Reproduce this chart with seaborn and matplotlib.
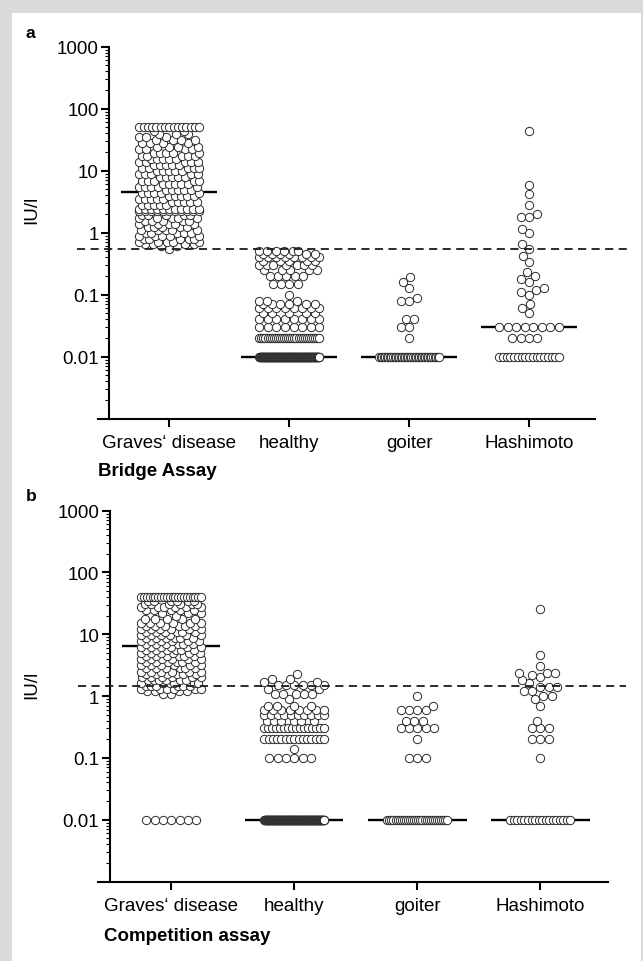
import numpy as np
import pandas as pd
import matplotlib
matplotlib.use('Agg')
import matplotlib.pyplot as plt
from matplotlib.patches import Rectangle
from matplotlib.ticker import FixedLocator, LogLocator, NullFormatter
import seaborn as sns

groups = ["Graves\u2018 disease", "healthy", "goiter", "Hashimoto"]
y_ticks = [0.01, 0.1, 1, 10, 100, 1000]
y_tick_labels = ["0.01", "0.1", "1", "10", "100", "1000"]

# Bridge assay (panel a): measured levels and number of sera at each level
graves_a_vals = [0.55, 0.6, 0.65, 0.72, 0.8, 0.9, 1.0, 1.1, 1.25, 1.4, 1.55, 1.75,
                 1.95, 2.2, 2.45, 2.75, 3.1, 3.45, 3.9, 4.35, 4.9, 5.5, 6.2, 6.9,
                 7.8, 8.7, 9.8, 11, 12.3, 13.8, 15.5, 17.4, 19.5, 22, 24.5, 27.5,
                 31, 34.5, 39, 44, 50]
graves_a_counts = [1, 2, 4, 5, 5, 5, 5, 5, 5, 5, 5, 5,
                   5, 11, 11, 5, 5, 5, 5, 5, 5, 5, 5, 5,
                   5, 5, 5, 5, 5, 5, 5, 5, 5, 4, 4, 4,
                   4, 3, 3, 2, 15]
healthy_a_vals = [0.01, 0.02, 0.03, 0.04, 0.05, 0.06, 0.07, 0.08, 0.1,
                  0.15, 0.2, 0.25, 0.3, 0.35, 0.4, 0.45, 0.5]
healthy_a_counts = [200, 30, 8, 8, 5, 8, 6, 3, 1, 4, 5, 5, 7, 5, 8, 6, 6]
goiter_a_vals = [0.01, 0.02, 0.03, 0.04, 0.08, 0.09, 0.13, 0.16, 0.19]
goiter_a_counts = [40, 1, 2, 2, 2, 1, 1, 1, 1]
hashimoto_a_vals = [0.01, 0.02, 0.03, 0.05, 0.06, 0.07, 0.1, 0.11, 0.12, 0.13,
                    0.16, 0.18, 0.2, 0.23, 0.34, 0.42, 0.55, 0.65, 1.0, 1.15,
                    1.8, 2.0, 2.8, 4.2, 5.8, 43]
hashimoto_a_counts = [17, 4, 8, 1, 1, 1, 1, 1, 1, 1, 1, 1, 1, 1, 1, 1, 1, 1,
                      1, 1, 2, 1, 1, 1, 1, 1]
medians_a = [4.5, 0.01, 0.01, 0.03]
cutoff_a = 0.55

# Competition assay (panel b)
graves_b_vals = [0.01, 1.1, 1.2, 1.3, 1.45, 1.6, 1.8, 2.0, 2.25, 2.5, 2.8, 3.15,
                 3.5, 3.95, 4.4, 4.95, 5.5, 6.2, 6.9, 7.8, 8.7, 9.8, 11, 12.3,
                 13.8, 15.5, 17.4, 19.5, 22, 24.5, 27.5, 31, 35, 40]
graves_b_counts = [7, 2, 4, 6, 6, 6, 6, 6, 6, 6, 6, 6,
                   6, 6, 6, 6, 6, 6, 6, 6, 6, 6, 6, 6,
                   6, 6, 5, 1, 3, 5, 6, 6, 6, 22]
healthy_b_vals = [0.01, 0.1, 0.14, 0.2, 0.3, 0.4, 0.5, 0.6, 0.7, 0.9, 1.1,
                  1.3, 1.5, 1.7, 1.9, 2.3]
healthy_b_counts = [220, 6, 1, 15, 16, 6, 10, 8, 4, 1, 5, 2, 6, 2, 2, 1]
goiter_b_vals = [0.01, 0.1, 0.2, 0.3, 0.4, 0.6, 0.7, 1.0]
goiter_b_counts = [30, 3, 1, 5, 3, 4, 1, 1]
hashimoto_b_vals = [0.01, 0.1, 0.2, 0.3, 0.4, 0.7, 0.9, 1.0, 1.2, 1.4, 1.6,
                    1.8, 2.0, 2.2, 2.4, 3.1, 4.7, 26]
hashimoto_b_counts = [18, 1, 3, 3, 1, 1, 1, 2, 2, 3, 1, 1, 1, 1, 3, 1, 1, 1]
medians_b = [6.4, 0.01, 0.01, 0.01]
cutoff_b = 1.45

DIAM = 8.3   # marker diameter in pixels
HALF = 30.0  # max half width of a column in pixels
FS = 13.5


def beeswarm(ax, pos, values):
    """GraphPad-like column scatter: returns x positions for sorted values"""
    vals = np.sort(np.asarray(values, float))
    pts = ax.transData.transform(np.column_stack([np.full(len(vals), pos), vals]))
    y = pts[:, 1]
    x = np.full(len(vals), np.nan)
    cap = 2 * int(HALF // DIAM) + 1
    # rows of identical values that do not fit get squeezed into the width
    _, start, cnt = np.unique(vals, return_index=True, return_counts=True)
    for s, n in zip(start, cnt):
        if n > cap:
            x[s:s + n] = np.linspace(-HALF, HALF, n)
    for i in range(len(vals)):
        if not np.isnan(x[i]):
            continue
        done = ~np.isnan(x)
        near = done & (np.abs(y - y[i]) < DIAM)
        nx, dy = x[near], y[near] - y[i]
        dx = np.sqrt(DIAM ** 2 - dy ** 2)
        cands = np.concatenate([[0.0], nx - dx, nx + dx])
        cands = cands[np.abs(cands) <= HALF + 1e-6]
        cands = cands[np.argsort(np.abs(cands), kind='stable')]
        best = None
        for c in cands:
            if np.all((c - nx) ** 2 + dy ** 2 >= DIAM ** 2 - 1e-3):
                best = c
                break
        if best is None:
            grid = np.linspace(-HALF, HALF, 61)
            dist = np.min((grid[:, None] - nx[None, :]) ** 2 + dy[None, :] ** 2, axis=1)
            best = grid[np.argmax(dist)]
        x[i] = best
    xd = ax.transData.inverted().transform(np.column_stack([pts[:, 0] + x, y]))[:, 0]
    return xd, vals


def draw_panel(ax, data, medians, cutoff, cut_span):
    ax.set_yscale('log')
    ax.set_ylim(1e-3, 1e3)
    ax.set_xlim(-0.595, 3.55)

    frames = []
    for i, (vals, counts) in enumerate(data):
        xs, ys = beeswarm(ax, i, np.repeat(vals, counts))
        frames.append(pd.DataFrame({'x': xs, 'IU/l': ys, 'group': groups[i]}))
    df = pd.concat(frames).sort_values(['group', 'IU/l', 'x'])

    sns.scatterplot(data=df, x='x', y='IU/l', ax=ax, marker='o', s=DIAM ** 2 * 0.52,
                    color='white', edgecolor='#2b2b2b', linewidth=0.7,
                    legend=False, zorder=3)

    pos = np.arange(len(groups))
    ax.hlines(medians, pos - 0.4, pos + 0.4, color='black', lw=1.7, zorder=2)
    ax.plot(cut_span, [cutoff, cutoff], color='#1a1a1a', lw=1.3, dashes=(4.5, 3),
            clip_on=False, zorder=5)

    ax.yaxis.set_major_locator(FixedLocator(y_ticks))
    ax.set_yticklabels(y_tick_labels)
    ax.yaxis.set_minor_locator(LogLocator(base=10, subs=np.arange(2, 10), numticks=20))
    ax.yaxis.set_minor_formatter(NullFormatter())
    ax.set_xticks(pos)
    ax.set_xticklabels(groups)
    ax.set_xlabel('')
    ax.set_ylabel('')

    sns.despine(ax=ax)
    ax.spines['left'].set_position(('data', -0.5))
    for s in ['left', 'bottom']:
        ax.spines[s].set_linewidth(1.5)
        ax.spines[s].set_color('black')
    ax.tick_params(axis='both', which='major', length=6, width=1.5, labelsize=FS,
                   color='black', labelcolor='black')
    ax.tick_params(axis='y', which='major', pad=1.5)
    ax.tick_params(axis='x', which='major', pad=5)
    ax.tick_params(axis='y', which='minor', length=3, width=0.8, color='black')
    ax.set_facecolor('none')


sns.set_style('ticks')
plt.rcParams['font.family'] = ['Liberation Sans', 'DejaVu Sans']
plt.rcParams['text.color'] = 'black'

W, H = 643, 962
fig = plt.figure(figsize=(W / 100, H / 100), dpi=100)
fig.patch.set_facecolor('#dadada')
fig.add_artist(Rectangle((12 / W, 0), 629 / W, (H - 14) / H, transform=fig.transFigure,
                         facecolor='white', edgecolor='none', zorder=-1))

ax_a = fig.add_axes([98 / W, 1 - 419.7 / H, 497 / W, 372 / H])
ax_b = fig.add_axes([98 / W, 1 - 882.5 / H, 510 / W, 370.8 / H])

data_a = [(graves_a_vals, graves_a_counts), (healthy_a_vals, healthy_a_counts),
          (goiter_a_vals, goiter_a_counts), (hashimoto_a_vals, hashimoto_a_counts)]
data_b = [(graves_b_vals, graves_b_counts), (healthy_b_vals, healthy_b_counts),
          (goiter_b_vals, goiter_b_counts), (hashimoto_b_vals, hashimoto_b_counts)]

draw_panel(ax_a, data_a, medians_a, cutoff_a, [-0.77, 3.82])
draw_panel(ax_b, data_b, medians_b, cutoff_b, [-0.76, 3.70])

fig.text(26 / W, 1 - 33 / H, 'a', weight='bold', size=FS - 1, va='center', ha='left')
fig.text(26 / W, 1 - 497 / H, 'b', weight='bold', size=FS - 1, va='center', ha='left')
fig.text(32 / W, 1 - 210 / H, 'IU/l', rotation=90, size=FS, va='center', ha='center')
fig.text(32 / W, 1 - 685 / H, 'IU/l', rotation=90, size=FS, va='center', ha='center')
fig.text(98 / W, 1 - 471 / H, 'Bridge Assay', weight='bold', size=FS, va='center', ha='left')
fig.text(104 / W, 1 - 937 / H, 'Competition assay', weight='bold', size=FS,
         va='center', ha='left')

fig.savefig('out.png', dpi=100, facecolor=fig.get_facecolor())
